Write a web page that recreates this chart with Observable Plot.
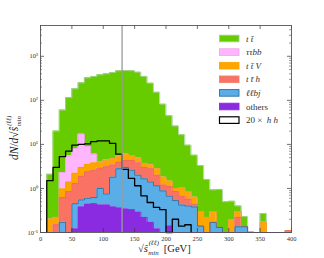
<!DOCTYPE html>
<html><head><meta charset="utf-8">
<script src="https://cdn.jsdelivr.net/npm/d3@7"></script>
<script src="https://cdn.jsdelivr.net/npm/@observablehq/plot@0.6"></script>
<style>body{margin:0;background:#fff} svg{display:block}</style>
</head><body><div id="chart"></div>
<script>
// bins: 10 GeV wide, 0..400 GeV
const binEdges = d3.range(0, 401, 10);
// per-process contributions per bin (stacked bottom -> top)
const others   = [0,0,0,0,0,0.12,0.38,0.44,0.45,0.42,0.42,0.38,0.36,0.34,0.33,0.29,0.22,0.17,0.12,0,0.14,0,0,0,0,0,0,0,0,0,0,0,0,0,0,0,0,0,0,0];
const llbj     = [0,0,0,0.17,0,0.33,0.17,0.16,0.17,0.58,0.33,1.42,2.44,2.66,2.27,1.71,1.43,1.23,1.03,0.88,0.53,0.53,0.42,0.40,0.38,0.14,0,0.17,0.13,0,0,0.135,0.135,0,0,0,0,0,0,0];
const tth      = [0,0,0.15,0.45,0.85,0.85,1.35,1.8,1.98,1.9,2.35,1.6,1.2,1.3,1.7,1.8,1.35,1.4,0.85,0.32,0.43,0.32,0.25,0.17,0.06,0,0,0,0,0,0,0.085,0,0,0,0,0,0,0,0.11];
const ttV      = [0,0.2,0.07,0.35,0.55,0.9,1.1,1.1,1.2,1.1,1.3,1.3,1.5,1.7,1.3,1.1,0.7,0.6,0.8,0.6,0.35,0.15,0.38,0.28,0.19,0.16,0.22,0.13,0,0,0.19,0.08,0,0,0,0.17,0,0,0,0];
const tautaubb = [0,0,0,1.33,4.1,5.8,14,5.5,2.2,0,0,0,0,0,0,0,0,0,0,0,0,0,0,0,0,0,0,0,0,0,0,0,0,0,0,0,0,0,0,0];
const ttbar    = [0,1.9,19.8,57.7,110,175,233,316,344,376,396,425,465,469,464,430,346,242,149,80,43.5,25,15.5,8.75,5.07,3.0,1.38,0.63,0.82,0.5,0.32,0.1,0.095,0.105,0,0.1,0,0,0,0];
// 20 x hh signal (not stacked)
const hh20     = [0,1.5,3.0,5.3,7.0,9.6,10,10.3,11.5,12,12,10.5,6.0,2.7,1.7,1.15,0.68,0.48,0.37,0.33,0,0.2,0.14,0.15,0,0,0,0,0,0,0,0,0,0,0,0,0,0,0,0];

const seriesNames = ["others","ℓℓbj","tth","ttV","ττbb","tt"];
const seriesVals  = [others, llbj, tth, ttV, tautaubb, ttbar];
const fills  = ["#8a2be2","#5aaee8","#fa7264","#ffa500","#ffb6fc","#66cc00"];
const edges  = ["#8a2be2","#2f6f9c","#ee6a5c","#f5a000","#f29ee8","#a9d09c"];

const xTicks = [0,50,100,150,200,250,300,350,400];
const yTicks = [0.1,1,10,100,1000];
const yMinor = [];
for (let e = -1; e <= 3; e++) for (let m = 2; m <= 9; m++) { const v = m*Math.pow(10,e); if (v < 5000) yMinor.push(v); }
const cutLine = [130];
const yFloor = 0.1;

// cumulative stacks
const cums = [];
let run = binEdges.slice(0,-1).map(() => 0);
for (const s of seriesVals) { run = run.map((r,i) => r + s[i]); cums.push(run); }

function stepData(lo, hi) {
  return binEdges.map((x,i) => {
    const j = Math.min(i, hi.length-1);
    return {x, lo: Math.max(lo ? lo[j] : 0, yFloor), hi: Math.max(hi[j], yFloor)};
  });
}

const layerMarks = [];
for (let k = seriesVals.length-1; k >= 0; k--) {
  const d = stepData(k > 0 ? cums[k-1] : null, cums[k]);
  layerMarks.push(Plot.areaY(d, {x:"x", y1:"lo", y2:"hi", curve:"step-after", fill: fills[k]}));
}
for (let k = seriesVals.length-1; k >= 0; k--) {
  const d = stepData(null, cums[k]);
  layerMarks.push(Plot.line(d, {x:"x", y:"hi", curve:"step-after", stroke: edges[k], strokeWidth: 0.9}));
}

// hh outline
const nz = hh20.map((v,i)=>v>0?i:-1).filter(i=>i>=0);
const first = nz[0], last = nz[nz.length-1];
const hhPts = [{x: binEdges[first], y: yFloor}];
for (let i = first; i <= last; i++) hhPts.push({x: binEdges[i], y: Math.max(hh20[i], yFloor)});
hhPts.push({x: binEdges[last+1], y: yFloor});

const sup = {"-":"⁻","0":"⁰","1":"¹","2":"²","3":"³"};
const fmt = d => "10" + String(Math.round(Math.log10(d))).split("").map(c=>sup[c]).join("");

const W = 324, H = 258, mL = 40, mR = 33, mT = 25, mB = 26;
const pw = W - mL - mR, ph = H - mT - mB;

const chart = Plot.plot({
  width: W, height: H, marginLeft: mL, marginRight: mR, marginTop: mT, marginBottom: mB,
  style: {fontFamily: "Liberation Serif", background: "white", overflow: "visible"},
  x: {domain: [0, 400]},
  y: {type: "log", domain: [0.1, 5000]},
  marks: [
    ...layerMarks,
    Plot.line(hhPts, {x:"x", y:"y", curve:"step-after", stroke:"#000", strokeWidth: 1.3}),
    Plot.ruleX(cutLine, {stroke:"#9a9a9a", strokeWidth: 1.3}),
    Plot.tickX(xTicks, {x: d=>d, insetTop: ph-4, stroke:"#333", strokeWidth:0.7}),
    Plot.tickX(xTicks, {x: d=>d, insetBottom: ph-4, stroke:"#333", strokeWidth:0.7}),
    Plot.tickY(yTicks, {y: d=>d, insetRight: pw-4, stroke:"#333", strokeWidth:0.7}),
    Plot.tickY(yTicks, {y: d=>d, insetLeft: pw-4, stroke:"#333", strokeWidth:0.7}),
    Plot.tickY(yMinor, {y: d=>d, insetRight: pw-2, stroke:"#333", strokeWidth:0.5}),
    Plot.tickY(yMinor, {y: d=>d, insetLeft: pw-2, stroke:"#333", strokeWidth:0.5}),
    Plot.axisX({ticks: xTicks, tickSize: 0, tickPadding: 3.5, fontSize: 6.5, label: null, fill:"#333"}),
    Plot.axisY({ticks: yTicks, tickFormat: fmt, tickSize: 0, tickPadding: 2.5, fontSize: 6.5, label: null, fill:"#333"}),
    Plot.frame({stroke: "#555", strokeWidth: 0.9})
  ]
});
document.getElementById("chart").appendChild(chart);

const svg = d3.select(chart);
// legend
const legendRows = [
  {fill: fills[5], stroke: "#a9c9a0", parts: [["t t̄", true]]},
  {fill: fills[4], stroke: "#f5a3ee", parts: [["ττbb", true]]},
  {fill: fills[3], stroke: fills[3], parts: [["t t̄ V", true]]},
  {fill: fills[2], stroke: "#f08070", parts: [["t t̄ h", true]]},
  {fill: fills[1], stroke: "#2f6f9c", parts: [["ℓℓbj", true]]},
  {fill: fills[0], stroke: fills[0], parts: [["others", false]]},
  {fill: "#fff", stroke: "#000", parts: [["20 ×  ", false], ["h h", true]]}
];
const lg = svg.append("g").attr("font-family", "Liberation Serif").attr("font-size", 9).attr("text-anchor", "start");
legendRows.forEach((r, i) => {
  const cy = 38.5 + i * 13.6;
  lg.append("rect").attr("x", 219.5).attr("y", cy - 3.3).attr("width", 19.5).attr("height", 6.6)
    .attr("fill", r.fill).attr("stroke", r.stroke).attr("stroke-width", r.fill === "#fff" ? 1.2 : 0.9);
  const t = lg.append("text").attr("x", 246).attr("y", cy + 3).attr("fill", "#333");
  r.parts.forEach(([s, it]) => t.append("tspan").attr("font-style", it ? "italic" : "normal").text(s));
});

// axis titles (separate pieces for main text, subscript and superscript)
const tg = svg.append("g").attr("font-family","Liberation Serif").attr("text-anchor","start").attr("fill","#222");
function sqrtLabel(g, x0, y0, prefix, size) {
  const main = g.append("text").attr("x", x0).attr("y", y0).attr("font-size", size);
  prefix.forEach(([s, it]) => main.append("tspan").attr("font-style", it ? "italic" : "normal").text(s));
  main.append("tspan").text("√");
  main.append("tspan").attr("font-style","italic").text("ŝ");
  const end = x0 + main.node().getComputedTextLength();
  g.append("text").attr("x", end + 0.5).attr("y", y0 + 3.2).attr("font-size", 6.8).attr("font-style","italic").text("min");
  g.append("text").attr("x", end + 1).attr("y", y0 - 6.8).attr("font-size", 6.8).attr("font-style","italic").text("(ℓℓ)");
  return end + 12;
}
const xl = tg.append("g");
const xEnd = sqrtLabel(xl, 138, 252, [], 10.5);
xl.append("text").attr("x", xEnd + 4).attr("y", 252).attr("font-size", 10.5).text("[GeV]");

const yl = tg.append("g").attr("transform", "translate(18,160) rotate(-90)");
sqrtLabel(yl, 0, 0, [["dN", true], ["/", false], ["d", true]], 11.5);
</script>
</body></html>
